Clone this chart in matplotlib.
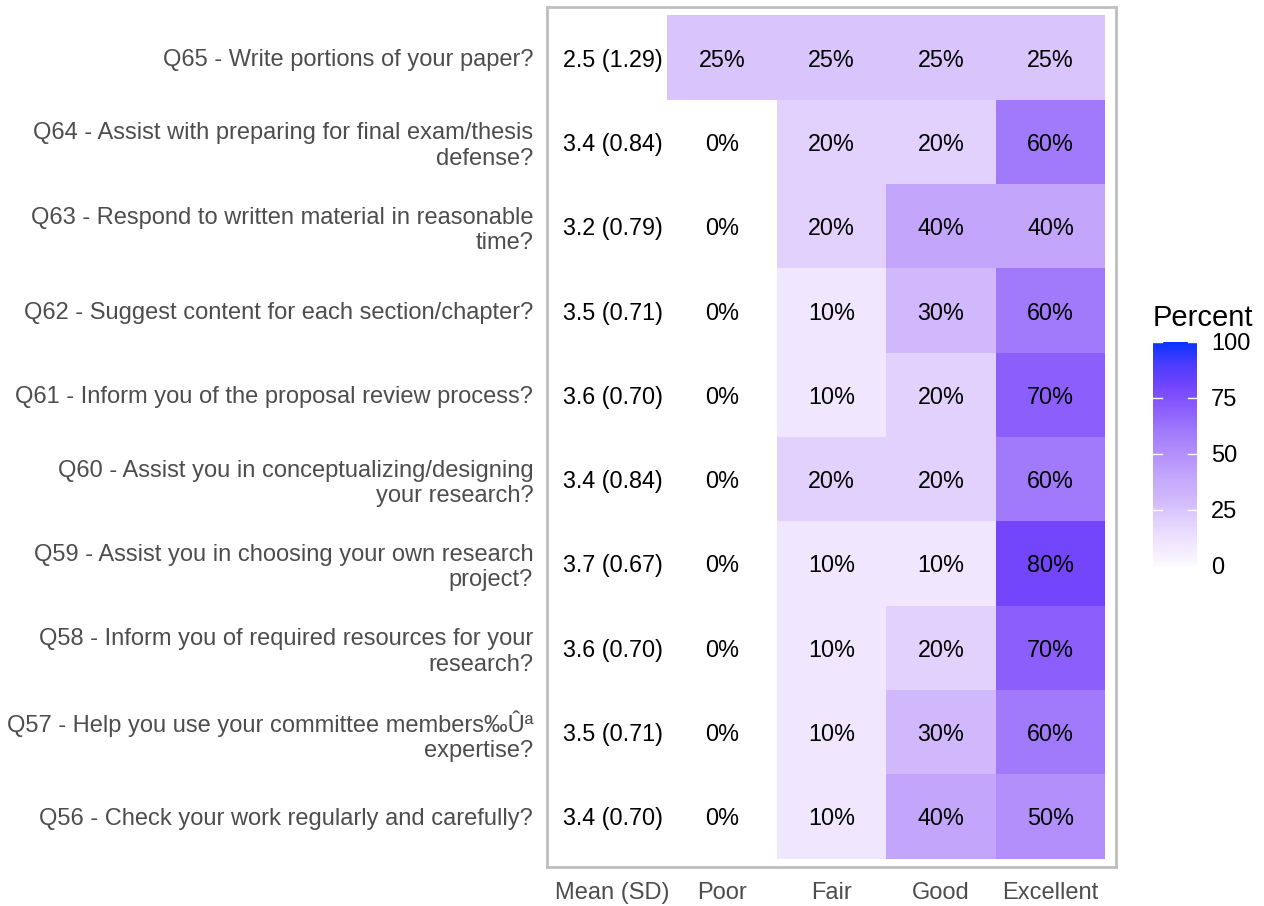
import numpy as np
import matplotlib
matplotlib.use("Agg")
import matplotlib.pyplot as plt
from matplotlib.colors import LinearSegmentedColormap, Normalize

plt.rcParams['font.family'] = ['Liberation Sans', 'DejaVu Sans']

# rows listed bottom to top
questions = [
    "Q56 - Check your work regularly and carefully?",
    "Q57 - Help you use your committee members\u2030\u00db\u00aa\nexpertise?",
    "Q58 - Inform you of required resources for your\nresearch?",
    "Q59 - Assist you in choosing your own research\nproject?",
    "Q60 - Assist you in conceptualizing/designing\nyour research?",
    "Q61 - Inform you of the proposal review process?",
    "Q62 - Suggest content for each section/chapter?",
    "Q63 - Respond to written material in reasonable\ntime?",
    "Q64 - Assist with preparing for final exam/thesis\ndefense?",
    "Q65 - Write portions of your paper?",
]
mean_sd = ["3.4 (0.70)", "3.5 (0.71)", "3.6 (0.70)", "3.7 (0.67)", "3.4 (0.84)",
           "3.6 (0.70)", "3.5 (0.71)", "3.2 (0.79)", "3.4 (0.84)", "2.5 (1.29)"]
poor = [0, 0, 0, 0, 0, 0, 0, 0, 0, 25]
fair = [10, 10, 10, 10, 20, 10, 10, 20, 20, 25]
good = [40, 30, 20, 10, 20, 20, 30, 40, 20, 25]
excellent = [50, 60, 70, 80, 60, 70, 60, 40, 60, 25]
columns = ["Mean (SD)", "Poor", "Fair", "Good", "Excellent"]

#colour scale white -> purple -> blue
stops = [(0.0, "#FCFAFF"), (0.1, "#F0E6FE"), (0.2, "#E2D1FD"), (0.3, "#D1B8FC"),
         (0.4, "#C3A6FC"), (0.5, "#B38FFB"), (0.6, "#A07AFB"), (0.7, "#8C5EFC"),
         (0.8, "#7346FC"), (0.9, "#4C3CFE"), (1.0, "#0A33FF")]
cmap = LinearSegmentedColormap.from_list("pct", stops)
norm = Normalize(0, 100)

fig = plt.figure(figsize=(12.64, 9.06), dpi=100)
ax = fig.add_axes([0.4328, 0.0430, 0.4502, 0.9493])

pct = np.array([poor, fair, good, excellent]).T.astype(float)
masked = np.ma.masked_where(pct == 0, pct)
xe = np.arange(0.5, 5.5, 1.0)
ye = np.arange(-0.5, 10.5, 1.0)
ax.pcolormesh(xe, ye, masked, cmap=cmap, norm=norm, edgecolors='none')

for i in range(len(questions)):
    ax.text(0, i, mean_sd[i], ha='center', va='center_baseline', fontsize=16.8, color='black')
    for j in range(4):
        ax.text(j + 1, i, "%d%%" % pct[i, j], ha='center', va='center_baseline',
                fontsize=16.8, color='black')

ax.set_xlim(-0.6, 4.6)
ax.set_ylim(-0.6, 9.6)
ax.set_xticks(range(5))
ax.set_xticklabels(columns, fontsize=17, color='#4D4D4D')
ax.set_yticks(range(10))
ax.set_yticklabels(questions, fontsize=17, color='#4D4D4D', linespacing=1.2)
ax.tick_params(axis='y', length=0, pad=10)
ax.tick_params(axis='x', length=0, pad=11)
for s in ax.spines.values():
    s.set_color('#BEBEBE')
    s.set_linewidth(2)

#legend
cax = fig.add_axes([1153 / 1264, 1 - 566 / 906, 44 / 1264, 224 / 906])
sm = plt.cm.ScalarMappable(cmap=cmap, norm=norm)
cb = fig.colorbar(sm, cax=cax, ticks=[0, 25, 50, 75, 100])
cb.outline.set_visible(False)
cax.tick_params(length=0, labelsize=17, pad=10)
for t in [25, 50, 75, 100]:
    cax.plot([0, 0.2], [t, t], color='white', lw=1, transform=cax.get_yaxis_transform())
    cax.plot([0.8, 1], [t, t], color='white', lw=1, transform=cax.get_yaxis_transform())
fig.text(1153 / 1264, 1 - 318 / 906, "Percent", fontsize=21, va='center', ha='left')

fig.savefig("out.png", dpi=100)
